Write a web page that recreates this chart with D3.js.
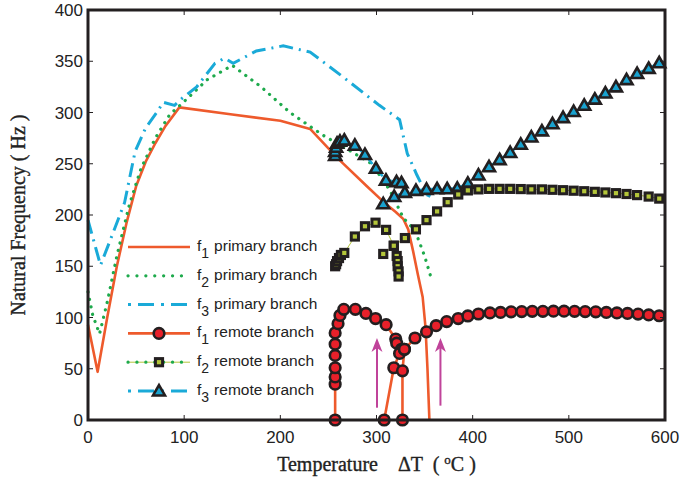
<!DOCTYPE html>
<html>
<head>
<meta charset="utf-8">
<script src="https://cdn.jsdelivr.net/npm/d3@7"></script>
<style>
  body { margin: 0; background: #fff; }
  svg { display: block; }
  .tick-label { font-family: "Liberation Sans", Arial, sans-serif; font-size: 17px; fill: #222; }
  .axis-title { font-family: "Liberation Serif", "DejaVu Serif", serif; font-size: 20px; fill: #222;
                stroke: #222; stroke-width: 0.35; white-space: pre; }
  .legend-text { font-family: "Liberation Sans", Arial, sans-serif; font-size: 15.5px; fill: #222; }
</style>
</head>
<body>
<svg id="chart" width="681" height="481"></svg>
<script>
// Natural frequency vs. temperature, primary and remote branches.

var xTicks = [0, 100, 200, 300, 400, 500, 600];
var yTicks = [0, 50, 100, 150, 200, 250, 300, 350, 400];

// Primary branches: [temperature, frequency]
var f1Primary = [[0, 93], [10, 47], [20, 100], [30, 150], [40, 192], [50, 228], [60, 252],
    [70, 270], [80, 286], [95, 305], [150, 298], [200, 292], [231, 284], [260, 255],
    [290, 228], [307, 213], [320, 203], [328, 196], [333, 186], [338, 165], [343, 142],
    [348, 120], [351, 90], [353, 50], [355, 0]];
var f2Primary = [[0, 125], [5, 102], [12, 84], [20, 115], [30, 160], [43, 210], [55, 245],
    [70, 275], [85, 298], [98, 309], [124, 332], [150, 346], [180, 325], [210, 300],
    [244, 278], [270, 264], [295, 250], [314, 224], [328, 197], [340, 185], [350, 160], [357, 138]];
var f3Primary = [[0, 195], [13, 151], [25, 180], [38, 212], [49, 262], [60, 285], [73, 302],
    [78, 310], [90, 307], [98, 314], [113, 325], [132, 348], [142, 353], [151, 348],
    [175, 360], [203, 365], [231, 359], [262, 337], [303, 307], [324, 293], [332, 260],
    [342, 239], [352, 220], [356, 218]];

// Remote branches, split into the pieces that are drawn separately
var f1Remote = [
    [[257, 0], [257, 35], [257, 42], [257, 51], [257, 63], [257, 74], [257, 85], [260, 94],
     [262, 102], [266, 108], [278, 108], [289, 104], [299, 99], [310, 93], [320, 79],
     [321, 75], [326, 69]],
    [[308, 0], [318, 51], [324, 65], [329, 69]],
    [[327, 0], [327, 48], [329, 69], [340, 80], [352, 86], [362, 92], [373, 96], [385, 99],
     [395, 101.5], [406, 103.4], [418, 104.5], [429, 105], [440, 105.5], [451, 105.8],
     [462, 106], [473, 106], [484, 106.2], [495, 106.2], [506, 106], [517, 105.8],
     [528, 105.5], [539, 105], [550, 104.5], [561, 104], [572, 103.3], [583, 102.5], [594, 101.7]]
];
var f2Remote = [
    [[257, 150], [258, 152], [259, 155], [261, 158], [263, 161], [266.5, 163], [277.5, 179],
     [288, 189], [299, 192.5], [310, 185.5], [318, 170], [321, 160], [322, 155], [322, 150],
     [323, 145], [323, 140]],
    [[307, 162], [318, 170], [329.5, 177.5], [341, 186], [352, 195], [363, 203.5],
     [374, 212.5], [385, 220], [395, 224], [406, 225], [417, 225.5], [428, 225.5],
     [439, 225.5], [450, 225.3], [461, 225], [472, 225], [483, 224.6], [494, 224.2],
     [505, 223.7], [516, 223.2], [527, 222.6], [538, 222], [549, 221.3], [560, 220.5],
     [571, 219.4], [583, 218], [594, 216]]
];
var f3Remote = [
    [[257, 258], [257, 262], [258, 266], [259, 270], [262, 272], [266.5, 273], [277.5, 268],
     [288, 259], [299.4, 245.5], [309.8, 234], [320.8, 232.5], [326, 231.5]],
    [[307, 211], [318.4, 218], [329.5, 222], [341, 224], [352, 225], [363, 225.5],
     [373.5, 225.5], [384, 226], [395, 231], [406, 239], [417, 247], [428, 254], [439, 261],
     [450, 269], [461, 276], [472, 282], [483, 289], [494, 295], [505, 301], [516, 307],
     [527, 313], [538, 319], [549, 325], [560, 332], [571, 338], [583, 343], [594, 348.5]]
];

// Arrows: [temperature, from frequency, to frequency]
var arrows = [[300.5, 12, 80], [366.5, 14, 80]];

var legendItems = [
    { sub: "1", label: "primary branch" },
    { sub: "2", label: "primary branch" },
    { sub: "3", label: "primary branch" },
    { sub: "1", label: "remote branch" },
    { sub: "2", label: "remote branch" },
    { sub: "3", label: "remote branch" }
];

var C_F1 = "#ee5a2c", C_F2 = "#1eaa4c", C_F3 = "#1aaad8";
var C_RED = "#e8202a", C_YG = "#b4c63a", C_TRI = "#19a2cf", C_DARK = "#231f20";

var svg = d3.select("#chart");
var x = d3.scaleLinear().domain([0, 600]).range([88, 665]);
var y = d3.scaleLinear().domain([0, 400]).range([420, 10]);
var line = d3.line().x(function (d) { return x(d[0]); }).y(function (d) { return y(d[1]); });

var plot = svg.append("g");

// Primary branches
plot.append("path").datum(f1Primary).attr("d", line)
    .attr("fill", "none").attr("stroke", C_F1).attr("stroke-width", 2.6).attr("stroke-linejoin", "round");
plot.append("path").datum(f2Primary).attr("d", line)
    .attr("fill", "none").attr("stroke", C_F2).attr("stroke-width", 3.2)
    .attr("stroke-dasharray", "0.1,7.5").attr("stroke-linecap", "round");
plot.append("path").datum(f3Primary).attr("d", line)
    .attr("fill", "none").attr("stroke", C_F3).attr("stroke-width", 3)
    .attr("stroke-dasharray", "14,6,2,6");

// Remote branch lines
f1Remote.forEach(function (seg) {
    plot.append("path").datum(seg).attr("d", line)
        .attr("fill", "none").attr("stroke", C_F1).attr("stroke-width", 2.6);
});
f2Remote.forEach(function (seg) {
    plot.append("path").datum(seg).attr("d", line)
        .attr("fill", "none").attr("stroke", C_YG).attr("stroke-width", 1);
});
f3Remote.forEach(function (seg) {
    plot.append("path").datum(seg).attr("d", line)
        .attr("fill", "none").attr("stroke", C_F3).attr("stroke-width", 2.5)
        .attr("stroke-dasharray", "10,6");
});

// Markers
var tri = d3.symbol().type(d3.symbolTriangle).size(62);

function drawCircle(g, px, py) {
    g.append("circle").attr("cx", px).attr("cy", py).attr("r", 5.3)
        .attr("fill", C_RED).attr("stroke", C_DARK).attr("stroke-width", 2.6);
}
function drawSquare(g, px, py) {
    g.append("rect").attr("x", px - 3.6).attr("y", py - 3.6).attr("width", 7.2).attr("height", 7.2)
        .attr("fill", C_YG).attr("stroke", C_DARK).attr("stroke-width", 3);
}
function drawTriangle(g, px, py) {
    g.append("path").attr("d", tri).attr("transform", "translate(" + px + "," + (py + 1) + ")")
        .attr("fill", C_TRI).attr("stroke", C_DARK).attr("stroke-width", 2.6).attr("stroke-linejoin", "miter");
}

var marks = plot.append("g");
f3Remote.forEach(function (seg) { seg.forEach(function (d) { drawTriangle(marks, x(d[0]), y(d[1])); }); });
f2Remote.forEach(function (seg) { seg.forEach(function (d) { drawSquare(marks, x(d[0]), y(d[1])); }); });
f1Remote.forEach(function (seg) { seg.forEach(function (d) { drawCircle(marks, x(d[0]), y(d[1])); }); });

// Arrows
var C_ARROW = "#c0439a";
arrows.forEach(function (a) {
    var ax = x(a[0]), y0 = y(a[1]), y1 = y(a[2]);
    plot.append("line").attr("x1", ax).attr("x2", ax).attr("y1", y0).attr("y2", y1 + 8)
        .attr("stroke", C_ARROW).attr("stroke-width", 2);
    plot.append("path")
        .attr("d", "M" + ax + "," + y1 + " L" + (ax - 5.5) + "," + (y1 + 14) + " L" + ax + "," + (y1 + 10) +
                   " L" + (ax + 5.5) + "," + (y1 + 14) + " Z")
        .attr("fill", C_ARROW);
});

// Axes box with inward ticks
var axes = svg.append("g");
var tickLen = 5;
xTicks.forEach(function (t) {
    axes.append("line").attr("x1", x(t)).attr("x2", x(t)).attr("y1", y(0)).attr("y2", y(0) - tickLen)
        .attr("stroke", C_DARK).attr("stroke-width", 1);
    axes.append("line").attr("x1", x(t)).attr("x2", x(t)).attr("y1", y(400)).attr("y2", y(400) + tickLen)
        .attr("stroke", C_DARK).attr("stroke-width", 1);
    axes.append("text").attr("class", "tick-label").attr("x", x(t)).attr("y", y(0) + 23)
        .attr("text-anchor", "middle").text(t);
});
yTicks.forEach(function (t) {
    axes.append("line").attr("x1", x(0)).attr("x2", x(0) + tickLen).attr("y1", y(t)).attr("y2", y(t))
        .attr("stroke", C_DARK).attr("stroke-width", 1);
    axes.append("line").attr("x1", x(600)).attr("x2", x(600) - tickLen).attr("y1", y(t)).attr("y2", y(t))
        .attr("stroke", C_DARK).attr("stroke-width", 1);
    axes.append("text").attr("class", "tick-label").attr("x", x(0) - 5).attr("y", y(t) + 6)
        .attr("text-anchor", "end").text(t);
});
axes.append("rect").attr("x", x(0)).attr("y", y(400)).attr("width", x(600) - x(0)).attr("height", y(0) - y(400))
    .attr("fill", "none").attr("stroke", C_DARK).attr("stroke-width", 3);

// Axis titles
var xt = svg.append("text").attr("class", "axis-title").attr("x", (x(0) + x(600)) / 2).attr("y", 471)
    .attr("text-anchor", "middle");
xt.append("tspan").text("Temperature    \u0394T  ( ");
xt.append("tspan").attr("dy", -7).attr("font-size", 13).text("o");
xt.append("tspan").attr("dy", 7).text("C )");

svg.append("text").attr("class", "axis-title")
    .attr("transform", "translate(25," + ((y(0) + y(400)) / 2) + ") rotate(-90)")
    .attr("text-anchor", "middle").text("Natural Frequency ( Hz )");

// Legend
var legend = svg.append("g");
legendItems.forEach(function (item, i) {
    var ly = 247 + i * 28.8, lx0 = 128, lx1 = 190, mx = (lx0 + lx1) / 2;
    var g = legend.append("g");
    if (i === 0 || i === 3) {
        g.append("line").attr("x1", lx0).attr("x2", lx1).attr("y1", ly).attr("y2", ly)
            .attr("stroke", C_F1).attr("stroke-width", 2.6);
    } else if (i === 1) {
        g.append("line").attr("x1", lx0).attr("x2", lx1).attr("y1", ly).attr("y2", ly)
            .attr("stroke", C_F2).attr("stroke-width", 3.2).attr("stroke-dasharray", "0.1,8.8").attr("stroke-linecap", "round");
    } else if (i === 2) {
        g.append("line").attr("x1", lx0).attr("x2", lx1).attr("y1", ly).attr("y2", ly)
            .attr("stroke", C_F3).attr("stroke-width", 3).attr("stroke-dasharray", "3,7,16,7");
    } else if (i === 4) {
        g.append("line").attr("x1", lx0).attr("x2", lx1).attr("y1", ly).attr("y2", ly)
            .attr("stroke", C_YG).attr("stroke-width", 1);
        g.append("line").attr("x1", lx0).attr("x2", lx1).attr("y1", ly).attr("y2", ly)
            .attr("stroke", C_F2).attr("stroke-width", 3.2).attr("stroke-dasharray", "0.1,8.8").attr("stroke-linecap", "round");
    } else {
        g.append("line").attr("x1", lx0).attr("x2", lx1).attr("y1", ly).attr("y2", ly)
            .attr("stroke", C_F3).attr("stroke-width", 3).attr("stroke-dasharray", "3,7,16,7");
    }
    if (i === 3) drawCircle(g, mx, ly);
    if (i === 4) drawSquare(g, mx, ly);
    if (i === 5) drawTriangle(g, mx, ly);

    var t = g.append("text").attr("class", "legend-text").attr("x", 197).attr("y", ly + 4);
    t.append("tspan").text("f");
    t.append("tspan").attr("dy", 7).attr("font-size", 14).text(item.sub);
    t.append("tspan").attr("dy", -7).attr("dx", 5).text(item.label);
});
</script>
</body>
</html>
